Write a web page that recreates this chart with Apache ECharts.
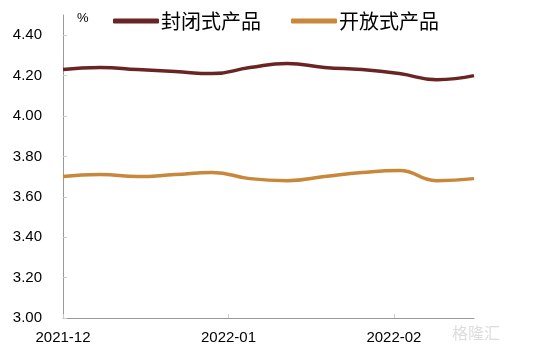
<!DOCTYPE html>
<html><head><meta charset="utf-8">
<script src="https://cdn.jsdelivr.net/npm/echarts@6/dist/echarts.min.js"></script>
<style>html,body{margin:0;padding:0;background:#fff}#c{width:541px;height:349px}</style>
</head><body><div id="c"></div>
<script>
const dates = ['2021-12-01','2021-12-08','2021-12-15','2021-12-22','2021-12-29','2022-01-05','2022-01-12','2022-01-19','2022-01-26','2022-02-02','2022-02-09','2022-02-16'];
const closedVals = [4.23,4.24,4.23,4.22,4.21,4.24,4.26,4.24,4.23,4.21,4.18,4.20];
const openVals = [3.70,3.71,3.70,3.71,3.72,3.69,3.68,3.70,3.72,3.73,3.68,3.69];
const xTickDates = ['2021-12-01','2022-01-01','2022-02-01'];
const xTickLabels = ['2021-12','2022-01','2022-02'];
const yTicks = [3.0,3.2,3.4,3.6,3.8,4.0,4.2,4.4];
const seriesNames = ['封闭式产品','开放式产品'];

const DAY = 86400000;
const ts = s => { const p = s.split('-'); return Date.UTC(+p[0], +p[1]-1, +p[2]); };
const t0 = ts(dates[0]);
const day = s => Math.round((ts(s) - t0) / DAY);
const xTicks = xTickDates.map(day);
const chart = echarts.init(document.getElementById('c'));
chart.setOption({
  animation: false,
  grid: {left: 63, right: 67, top: 15, bottom: 31},
  legend: {
    left: 108, top: 6, itemGap: 30, itemWidth: 46, itemHeight: 5, icon: 'roundRect',
    textStyle: {fontSize: 20, color: '#000', fontFamily: 'Noto Sans CJK SC', padding: [0,0,0,-3]},
    data: seriesNames
  },
  graphic: [
    {type: 'text', left: 77, top: 12, style: {text: '%', fontSize: 13, fill: '#000', fontFamily: 'Liberation Sans'}},
    {type: 'text', left: 452, top: 325, style: {text: '格隆汇', fontSize: 16, fill: '#ddd', fontFamily: 'Noto Sans CJK SC'}}
  ],
  xAxis: {
    type: 'value', min: 0, max: day(dates[dates.length-1]),
    axisLine: {lineStyle: {color: '#999', width: 1}},
    axisTick: {inside: true, length: 4, lineStyle: {color: '#ccc'}, customValues: xTicks},
    axisLabel: {customValues: xTicks, color: '#000', fontSize: 15, fontFamily: 'Liberation Sans', margin: 12,
      formatter: v => xTickLabels[xTicks.indexOf(Math.round(v))] || ''},
    splitLine: {show: false}
  },
  yAxis: {
    type: 'value', min: 3.0, max: 4.5,
    axisLine: {show: true, lineStyle: {color: '#999', width: 1}},
    axisTick: {show: true, inside: true, length: 4, lineStyle: {color: '#ccc'}, customValues: yTicks},
    axisLabel: {customValues: yTicks, color: '#000', fontSize: 15, fontFamily: 'Liberation Sans', margin: 21,
      formatter: v => v.toFixed(2)},
    splitLine: {show: false}
  },
  series: [
    {name: seriesNames[0], type: 'line', smooth: 0.5, showSymbol: false,
     data: dates.map((d,i) => [day(d), closedVals[i]]),
     lineStyle: {color: '#6B2424', width: 3.5}, itemStyle: {color: '#6B2424'}},
    {name: seriesNames[1], type: 'line', smooth: 0.5, showSymbol: false,
     data: dates.map((d,i) => [day(d), openVals[i]]),
     lineStyle: {color: '#C8873A', width: 3.5}, itemStyle: {color: '#C8873A'}}
  ]
});
</script></body></html>
